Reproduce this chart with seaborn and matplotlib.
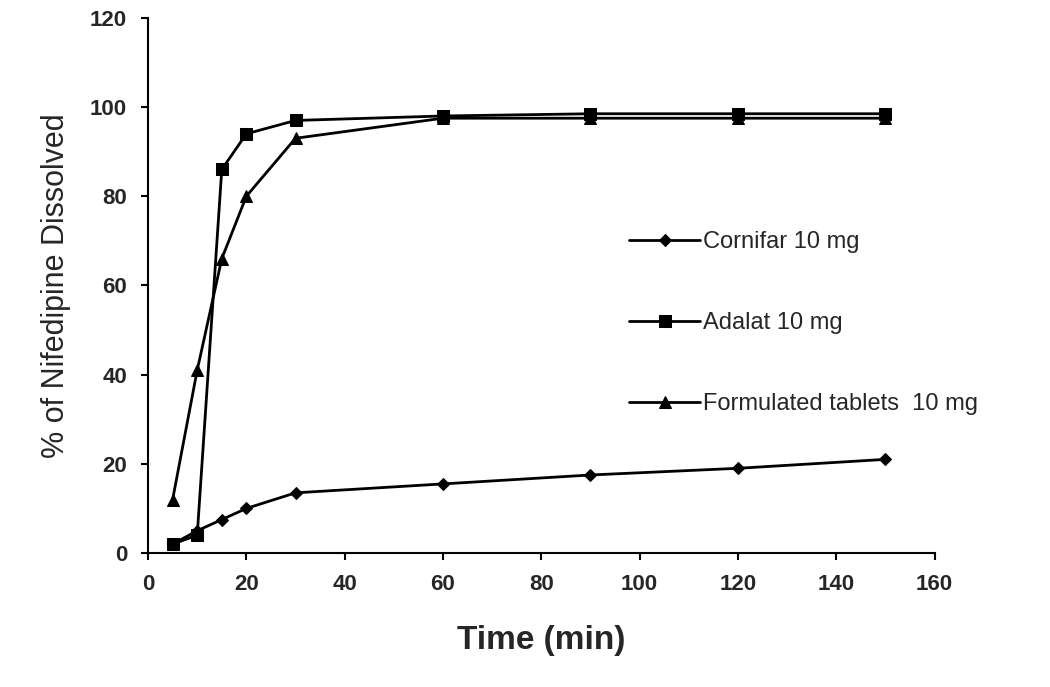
import matplotlib
matplotlib.use("Agg")
import matplotlib.pyplot as plt
import pandas as pd
import seaborn as sns

time_min = [5, 10, 15, 20, 30, 60, 90, 120, 150]
cornifar = [2, 5, 7.5, 10, 13.5, 15.5, 17.5, 19, 21]
adalat = [2, 4, 86, 94, 97, 98, 98.5, 98.5, 98.5]
formulated = [12, 41, 66, 80, 93, 97.5, 97.5, 97.5, 97.5]

series = {
    "Cornifar 10 mg": cornifar,
    "Adalat 10 mg": adalat,
    "Formulated tablets  10 mg": formulated,
}
markers = {"Cornifar 10 mg": "D", "Adalat 10 mg": "s", "Formulated tablets  10 mg": "^"}
sizes = {"Cornifar 10 mg": 6, "Adalat 10 mg": 9, "Formulated tablets  10 mg": 9}

df = pd.concat(
    [pd.DataFrame({"time": time_min, "pct": v, "product": k}) for k, v in series.items()]
)

sns.set_style("white")
plt.rcParams["font.family"] = ["Liberation Sans", "DejaVu Sans"]
fig, ax = plt.subplots(figsize=(10.5, 6.87), dpi=100)
fig.subplots_adjust(left=0.141, right=0.89, top=0.974, bottom=0.195)

for name in series:
    sub = df[df["product"] == name]
    sns.lineplot(data=sub, x="time", y="pct", ax=ax, color="black", linewidth=2,
                 marker=markers[name], markersize=sizes[name], markeredgecolor="black",
                 label=name)

ax.set_xlim(0, 160)
ax.set_ylim(0, 120)
ax.set_xticks(range(0, 161, 20))
ax.set_yticks(range(0, 121, 20))
for lab in ax.get_xticklabels() + ax.get_yticklabels():
    lab.set_fontweight("bold")
    lab.set_fontsize(16)
ax.tick_params(axis="both", direction="out", length=5, width=1.5, color="black",
               bottom=True, left=True, pad=10)
for s in ["top", "right"]:
    ax.spines[s].set_visible(False)
for s in ["left", "bottom"]:
    ax.spines[s].set_color("black")
    ax.spines[s].set_linewidth(1.5)
ax.set_xlabel("Time (min)", fontsize=24, fontweight="bold", labelpad=22)
ax.set_ylabel("% of Nifedipine Dissolved", fontsize=22, labelpad=14)

ax.legend(loc="center left", bbox_to_anchor=(0.6, 0.43), frameon=False, fontsize=17,
          labelspacing=2.5, handlelength=3.0, handletextpad=0.1, borderaxespad=0)

fig.savefig("out.png", dpi=100)
